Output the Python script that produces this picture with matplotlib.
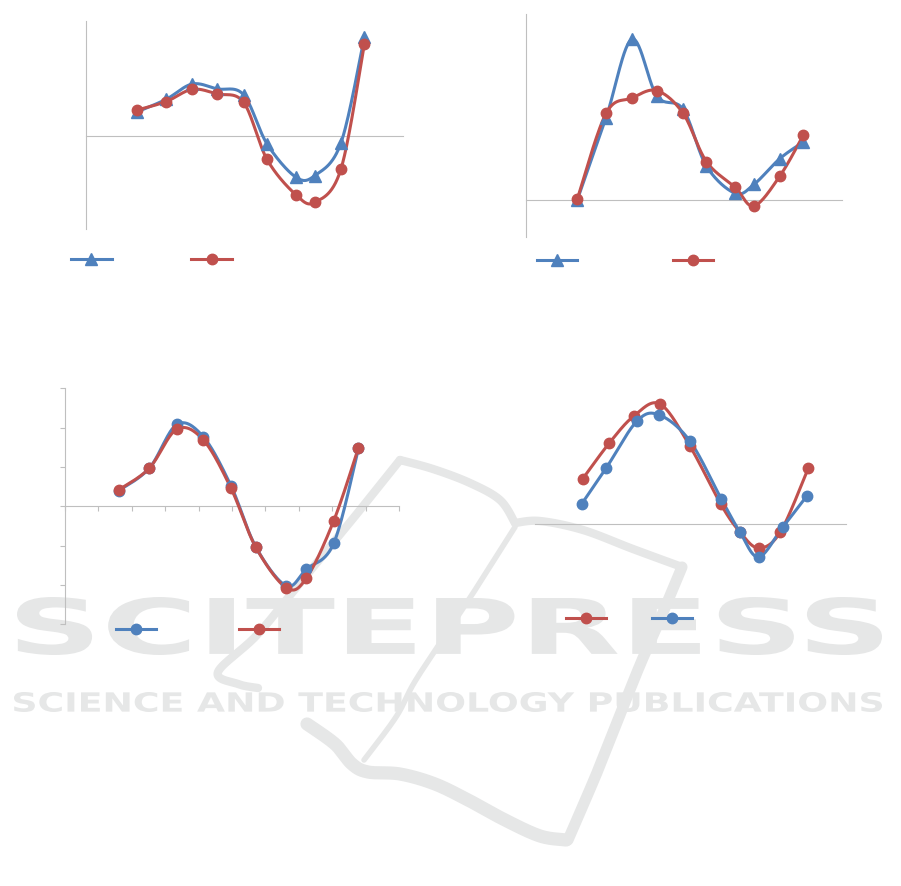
import numpy as np
import matplotlib
matplotlib.use('Agg')
import matplotlib.pyplot as plt
from matplotlib.lines import Line2D
from matplotlib.textpath import TextPath
from matplotlib.font_manager import FontProperties
from matplotlib.patches import PathPatch
from matplotlib.transforms import Affine2D

BLUE = '#4f81bd'
RED = '#c0504d'
AXIS = '#bfbfbf'
MARK = '#e6e7e7'

# x positions shared by the first three charts
x_pos = [1.62, 2.53, 3.35, 4.14, 4.97, 5.71, 6.62, 7.22, 8.04, 8.78]

# chart a (top left)
a_blue = [0.106, 0.160, 0.226, 0.205, 0.180, -0.033, -0.177, -0.170, -0.030, 0.428]
a_red = [0.114, 0.150, 0.203, 0.183, 0.147, -0.100, -0.253, -0.286, -0.143, 0.398]

# chart b (top right)
b_blue = [0.0, 0.442, 0.864, 0.558, 0.487, 0.181, 0.034, 0.082, 0.221, 0.310]
b_red = [0.005, 0.465, 0.547, 0.587, 0.465, 0.205, 0.066, -0.034, 0.127, 0.346]

# chart c (bottom left)
c_blue = [0.040, 0.097, 0.208, 0.177, 0.052, -0.103, -0.202, -0.160, -0.094, 0.147]
c_red = [0.042, 0.097, 0.196, 0.169, 0.046, -0.104, -0.207, -0.183, -0.037, 0.149]

# chart d (bottom right)
d_red_x = [1.53, 2.39, 3.18, 4.02, 4.98, 5.97, 6.59, 7.19, 7.89, 8.79]
d_red = [0.45, 0.81, 1.08, 1.20, 0.78, 0.20, -0.08, -0.24, -0.08, 0.56]
d_blue_x = [1.50, 2.29, 3.28, 4.00, 4.98, 5.99, 6.59, 7.19, 7.97, 8.74]
d_blue = [0.20, 0.56, 1.03, 1.09, 0.83, 0.25, -0.08, -0.33, -0.03, 0.28]

# watermark strokes (page pixels)
logo_strokes = [
    ([(400, 460), (433, 469), (470, 483), (500, 500), (515, 523)], 6.0),
    ([(515, 523), (540, 521), (583, 530), (633, 549), (682, 567)], 6.0),
    ([(682, 567), (662, 615), (640, 665), (618, 720), (596, 775), (568, 840)], 8.0),
    ([(566, 840), (540, 836), (505, 820), (470, 801), (435, 784), (400, 774), (368, 772),
      (352, 764), (335, 744), (307, 724)], 9.5),
    ([(400, 460), (360, 510), (300, 583), (257, 635), (218, 672), (238, 684), (258, 688)], 6.0),
    ([(515, 527), (477, 587), (442, 640), (414, 683), (396, 717), (364, 760)], 4.0),
]


def bezier_smooth(pts, n=30):
    # Catmull-Rom style smoothing like the spreadsheet "smoothed line"
    pts = np.asarray(pts, float)
    ext = np.vstack([pts[0], pts, pts[-1]])
    out = [pts[:1]]
    t = np.linspace(0, 1, n)[1:, None]
    for i in range(1, len(ext) - 2):
        p0, p1, p2, p3 = ext[i - 1], ext[i], ext[i + 1], ext[i + 2]
        c1 = p1 + (p2 - p0) / 6
        c2 = p2 - (p3 - p1) / 6
        seg = ((1 - t) ** 3) * p1 + 3 * ((1 - t) ** 2) * t * c1 + 3 * (1 - t) * t ** 2 * c2 + t ** 3 * p2
        out.append(seg)
    return np.vstack(out)


def draw_series(ax, x, y, color, marker, ms):
    disp = ax.transData.transform(np.column_stack([x, y]))
    curve = ax.transData.inverted().transform(bezier_smooth(disp))
    ax.plot(curve[:, 0], curve[:, 1], color=color, lw=2.2, zorder=3,
            solid_capstyle='round', solid_joinstyle='round')
    ax.plot(x, y, ls='none', marker=marker, color=color, ms=ms, zorder=4)


def fit_text(ax, s, x0, y0, x1, y1):
    tp = TextPath((0, 0), s, size=100, prop=FontProperties(family='DejaVu Sans', weight='bold'))
    bb = tp.get_extents()
    tr = (Affine2D().translate(-bb.x0, -bb.y0)
          .scale((x1 - x0) / bb.width, -(y1 - y0) / bb.height)
          .translate(x0, y1))
    ax.add_patch(PathPatch(tr.transform_path(tp), facecolor=MARK, edgecolor='none'))


def setup(ax, xlim, ylim, left=True):
    ax.set_facecolor('none')
    ax.set_xlim(*xlim)
    ax.set_ylim(*ylim)
    for s in ['top', 'right']:
        ax.spines[s].set_visible(False)
    ax.spines['left'].set_visible(left)
    ax.spines['left'].set_color(AXIS)
    ax.spines['bottom'].set_color(AXIS)
    ax.spines['bottom'].set_position(('data', 0))
    ax.set_xticks([])
    ax.set_yticks([])


def add_legend(fig, handles, cx, cy, gap):
    fig.legend(handles, ['', ''], loc='center', bbox_to_anchor=(cx / 901, 1 - cy / 886),
               ncol=2, frameon=False, handlelength=2.9, handletextpad=0.0,
               columnspacing=gap / 13.9, borderpad=0)


fig = plt.figure(figsize=(9.01, 8.86), dpi=100)

bg = fig.add_axes([0, 0, 1, 1], zorder=0)
bg.set_xlim(0, 901)
bg.set_ylim(886, 0)
bg.axis('off')
for pts, w in logo_strokes:
    c = bezier_smooth(pts)
    bg.plot(c[:, 0], c[:, 1], color=MARK, lw=w, solid_capstyle='round', solid_joinstyle='round')
fit_text(bg, 'SCITEPRESS', 17, 597, 882, 655)
fit_text(bg, 'SCIENCE AND TECHNOLOGY PUBLICATIONS', 14, 692, 882, 712)

# chart a
ax1 = fig.add_axes([86 / 901, 1 - 228.7 / 886, 317 / 901, 208 / 886], zorder=1)
setup(ax1, (0, 10), (-0.4, 0.5))
draw_series(ax1, x_pos, a_blue, BLUE, '^', 8)
draw_series(ax1, x_pos, a_red, RED, 'o', 7.5)
add_legend(fig, [Line2D([], [], color=BLUE, lw=2.2, marker='^', ms=8),
                 Line2D([], [], color=RED, lw=2.2, marker='o', ms=7.5)], 151.5, 260, 80)

# chart b
ax2 = fig.add_axes([526.3 / 901, 1 - 236.7 / 886, 315.4 / 901, 222.7 / 886], zorder=1)
setup(ax2, (0, 10), (-0.2, 1.0))
draw_series(ax2, x_pos, b_blue, BLUE, '^', 8)
draw_series(ax2, x_pos, b_red, RED, 'o', 7.5)
add_legend(fig, [Line2D([], [], color=BLUE, lw=2.2, marker='^', ms=8),
                 Line2D([], [], color=RED, lw=2.2, marker='o', ms=7.5)], 625, 261, 96)

# chart c
ax3 = fig.add_axes([64.7 / 901, 1 - 624.3 / 886, 334.6 / 901, 236 / 886], zorder=1)
setup(ax3, (0, 10), (-0.3, 0.3))
ax3.set_xticks(np.arange(0, 11))
ax3.set_yticks(np.arange(-0.3, 0.31, 0.1))
ax3.tick_params(axis='both', direction='out', length=3.5, width=0.8, color=AXIS,
                labelleft=False, labelbottom=False)
draw_series(ax3, x_pos, c_blue, BLUE, 'o', 7.5)
draw_series(ax3, x_pos, c_red, RED, 'o', 7.5)
add_legend(fig, [Line2D([], [], color=BLUE, lw=2.2, marker='o', ms=7.5),
                 Line2D([], [], color=RED, lw=2.2, marker='o', ms=7.5)], 197.5, 629.5, 83)

# chart d
ax4 = fig.add_axes([535 / 901, 1 - 584 / 886, 311 / 901, 200 / 886], zorder=1)
setup(ax4, (0, 10), (-0.6, 1.4), left=False)
draw_series(ax4, d_red_x, d_red, RED, 'o', 7.5)
draw_series(ax4, d_blue_x, d_blue, BLUE, 'o', 7.5)
add_legend(fig, [Line2D([], [], color=RED, lw=2.2, marker='o', ms=7.5),
                 Line2D([], [], color=BLUE, lw=2.2, marker='o', ms=7.5)], 629, 619, 46)

fig.savefig('out.png', dpi=100)
